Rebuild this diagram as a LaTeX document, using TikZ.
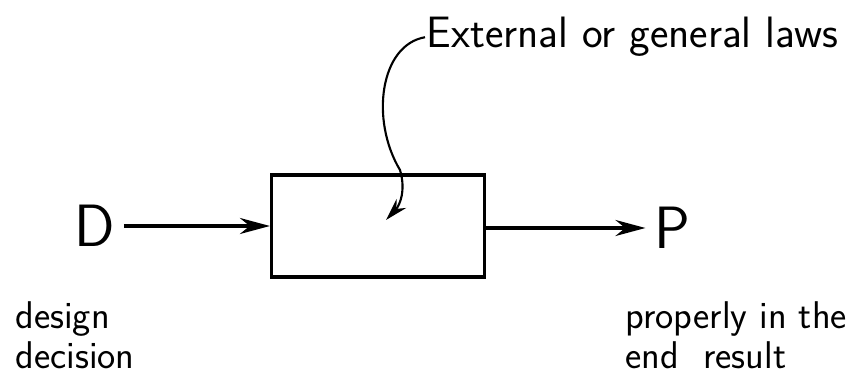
\documentclass[tikz,border=0pt]{standalone}
\usetikzlibrary{arrows.meta}

\begin{document}
\begin{tikzpicture}[x=0.02cm,y=-0.02cm,line width=1.8pt,
    txt/.style={font=\sffamily\fontsize{22}{23}\selectfont,align=left,inner sep=0pt},
    letter/.style={font=\sffamily\fontsize{34}{38}\selectfont,inner sep=4pt},
    tip/.style={-{Stealth[length=6mm,width=3.2mm]}}]
    \useasboundingbox (0,0) rectangle (855,391);
    \node[draw,inner sep=0pt,minimum width=4.26cm,minimum height=2.04cm] (box) at (378,226) {};
    \node[letter] (D) at (95,226) {D};
    \node[letter] (P) at (672,228) {P};
    \draw[tip] (D.east) -- (box.west);
    \draw[tip] (box.east |- P.west) -- (P.west);
    \node[txt,anchor=base west,font=\sffamily\fontsize{25}{28}\selectfont] (laws) at (425,48) {External or general laws};
    \coordinate (law) at (386,220);
    \draw[line width=1.2pt,-{Stealth[length=4.5mm,width=2.6mm]}] (laws.west)
      .. controls (380,45) and (370,120) .. (400,170)
      .. controls (406,190) and (400,205) .. (law);
    \node[txt,anchor=north west] (dd) at (14,300) {design\\decision};
    \node[txt,anchor=north west] (pr) at (624,300) {properly in the\\end\ \ result};
  \end{tikzpicture}
\end{document}
